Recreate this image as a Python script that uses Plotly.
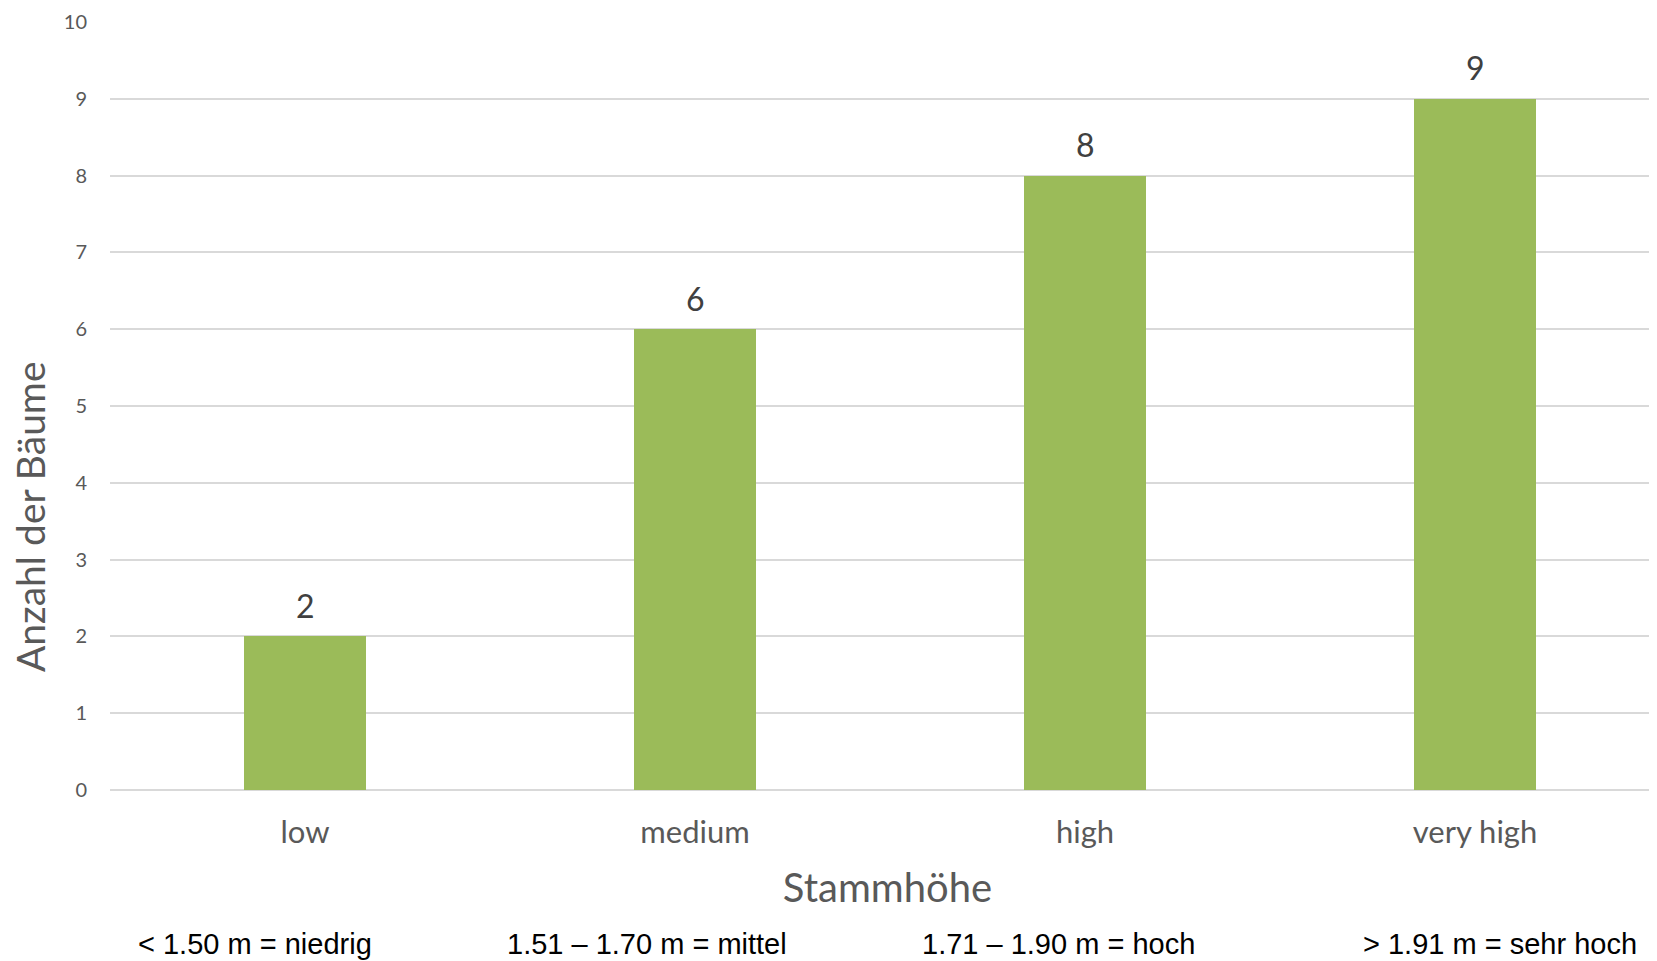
import plotly.graph_objects as go

categories = ["low", "medium", "high", "very high"]
counts = [2, 6, 8, 9]
y_ticks = list(range(0, 11))
legend_notes = ["< 1.50 m = niedrig", "1.51 – 1.70 m = mittel", "1.71 – 1.90 m = hoch", "> 1.91 m = sehr hoch"]
note_x = [255, 647, 1058, 1500]

# page body has an 8px margin; compensate so the picture lines up with the window
O = 8
W, H = 1657, 961 - O
L, T, B0 = 110 - O, 22 - O, 790 - O   # plot left, top (y=10), bottom (y=0)
CAT_PX = 390.0
fig = go.Figure()
fig.add_trace(go.Bar(
    x=categories, y=counts, width=0.313,
    marker=dict(color="#9BBB59", line=dict(width=0)),
    hoverinfo="x+y",
))
for c, v in zip(categories, counts):
    fig.add_annotation(
        x=c, y=v, text=str(v), showarrow=False, yshift=31,
        xanchor="center", yanchor="middle",
        font=dict(family="Lato", size=32, color="#404040"),
    )

fig.update_layout(
    width=W, height=H,
    margin=dict(l=L, r=0, t=T, b=H - B0, pad=0),
    plot_bgcolor="white", paper_bgcolor="white",
    showlegend=False,
    bargap=0,
)
fig.update_xaxes(
    range=[-0.5, -0.5 + (W - L) / CAT_PX], showgrid=False, zeroline=False, showline=False,
    ticks="", tickfont=dict(family="Lato", size=31, color="#595959"),
    ticklabelstandoff=21,
    title=dict(text="Stammhöhe", font=dict(family="Lato", size=40, color="#595959"), standoff=24),
)
fig.update_yaxes(
    range=[0, 10], tickvals=y_ticks, showgrid=True, gridcolor="#D9D9D9", gridwidth=2,
    zeroline=True, zerolinecolor="#D9D9D9", zerolinewidth=2, showline=False,
    ticks="", tickfont=dict(family="Lato", size=20, color="#595959"),
    ticklabelstandoff=22,
)
fig.add_annotation(
    text="Anzahl der Bäume", xref="paper", yref="paper",
    x=-(110 - 30) / (W - L), y=(790 - 517) / (790 - 22),
    textangle=-90, showarrow=False, xanchor="center", yanchor="middle",
    font=dict(family="Lato", size=39, color="#595959"),
)
for t, xp in zip(legend_notes, note_x):
    fig.add_annotation(
        text=t, xref="paper", yref="paper",
        x=(xp - 110) / (W - L), y=-(944 - 790) / (790 - 22),
        showarrow=False, xanchor="center", yanchor="middle",
        font=dict(family="Liberation Sans Narrow, Arial Narrow, Liberation Sans", size=29, color="#000000"),
    )

fig.write_html("out.html")
